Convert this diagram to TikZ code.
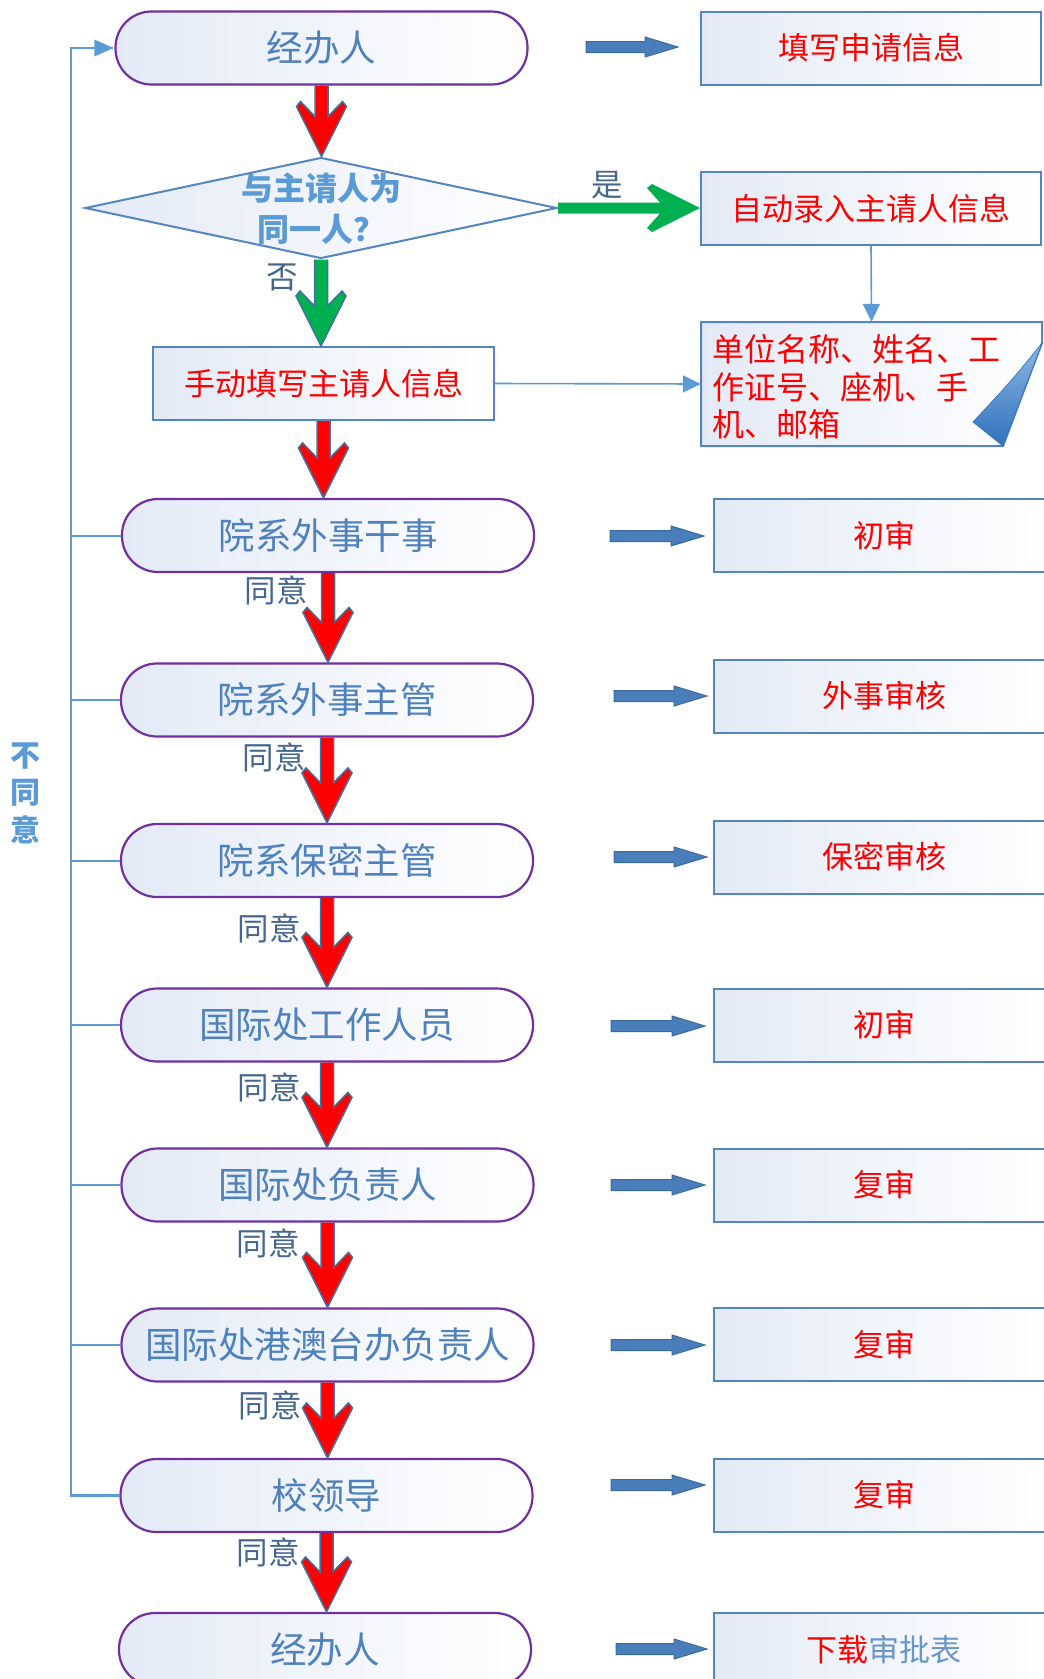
\documentclass[tikz,border=0pt]{standalone}
\usepackage{fontspec}
\setmainfont{Noto Sans CJK SC}
\usetikzlibrary{shapes.geometric,arrows.meta,calc}
\definecolor{pillborder}{HTML}{7030A0}
\definecolor{pilltext}{HTML}{4F81BD}
\definecolor{boxborder}{HTML}{5585C0}
\definecolor{lblue}{HTML}{5B9BD5}
\definecolor{gradc}{HTML}{E3EAF6}
\definecolor{arrline}{HTML}{41719C}
\definecolor{agreen}{HTML}{00B050}
\definecolor{lbltext}{HTML}{44668F}
\definecolor{barrow}{HTML}{4A7EBB}
\definecolor{barrowline}{HTML}{3A6A9E}
\definecolor{curllight}{HTML}{8DB6E4}
\definecolor{curldark}{HTML}{2F72BC}
\definecolor{sptext}{HTML}{6A95C8}

\newcommand\vArrow[3]{%
  \fill[#1] let \p1=(#2.south), \p2=(#3.north) in
    (\x1-6.5pt,\y1) -- (\x1-6.5pt,\y2+40pt) -- (\x1-21pt,\y2+55pt) -- (\x1-25pt,\y2+50pt) -- (\x1,\y2) -- (\x1+25pt,\y2+50pt) -- (\x1+21pt,\y2+55pt) -- (\x1+6.5pt,\y2+40pt) -- (\x1+6.5pt,\y1) -- cycle;
  \draw[arrline, line width=1.5pt, line join=miter] let \p1=(#2.south), \p2=(#3.north) in
    (\x1-6.5pt,\y1) -- (\x1-6.5pt,\y2+40pt) -- (\x1-21pt,\y2+55pt) -- (\x1-25pt,\y2+50pt) -- (\x1,\y2) -- (\x1+25pt,\y2+50pt) -- (\x1+21pt,\y2+55pt) -- (\x1+6.5pt,\y2+40pt) -- (\x1+6.5pt,\y1);
}
\newcommand\hArrow[3]{%
  \fill[#1] let \p1=(#2.east), \p2=(#3.west) in
    (\x1,\y1+5.5pt) -- (\x2-40pt,\y1+5.5pt) -- (\x2-53pt,\y1+20pt) -- (\x2-48pt,\y1+24pt) -- (\x2,\y1) -- (\x2-48pt,\y1-24pt) -- (\x2-53pt,\y1-20pt) -- (\x2-40pt,\y1-5.5pt) -- (\x1,\y1-5.5pt) -- cycle;
}
\newcommand\bArrow[3]{%
  \path[draw=barrowline, fill=barrow, line width=1pt, line join=miter]
    (#1,#3-5.5) -- (#2-33,#3-5.5) -- (#2-33,#3-10) -- (#2,#3) -- (#2-33,#3+10) -- (#2-33,#3+5.5) -- (#1,#3+5.5) -- cycle;
}

\tikzset{
  pill/.style={draw=pillborder, line width=2.2pt, rounded corners=36pt,
    minimum width=412pt, minimum height=73pt, inner sep=0pt,
    left color=gradc, right color=white, text=pilltext,
    font=\fontsize{36.5}{40}\selectfont},
  rbox/.style={draw=boxborder, line width=2pt, left color=gradc, right color=white,
    minimum width=340pt, minimum height=73pt, inner sep=0pt, text=red,
    font=\fontsize{31}{36}\selectfont},
  lbl/.style={inner sep=0pt, text=lbltext, font=\fontsize{31.5}{34}\selectfont},
  loopline/.style={draw=lblue, line width=2.5pt},
  thinarrow/.style={draw=lblue, line width=1.6pt, -{Triangle[length=18pt,width=17pt]}},
}

\begin{document}
\begin{tikzpicture}[x=1pt,y=-1pt]
\useasboundingbox (0,0) rectangle (1044,1679);

% main column
\node[pill] (top) at (321.5,48) {经办人};
\node[draw=boxborder, line width=2pt, shape=diamond, minimum width=472pt, minimum height=101pt,
      inner sep=0pt, left color=gradc, right color=white] (d) at (321,208) {};
\node[inner sep=0pt, align=center, text=lblue, font=\bfseries\fontsize{32}{41}\selectfont] (dt) at (321,208.5) {与主请人为\\同一人？};
\node[rbox, minimum width=341pt] (m) at (323.5,383.5) {手动填写主请人信息};
\node[pill] (p1) at (328,535.5) {院系外事干事};
\node[pill] (p2) at (327,700) {院系外事主管};
\node[pill] (p3) at (327,860.5) {院系保密主管};
\node[pill] (p4) at (327,1025) {国际处工作人员};
\node[pill] (p5) at (327.5,1185) {国际处负责人};
\node[pill] (p6) at (327.5,1345) {国际处港澳台办负责人};
\node[pill] (p7) at (326.5,1495.5) {校领导};
\node[pill] (p8) at (325,1649.5) {经办人};

% right column
\node[rbox] (b1) at (871,48) {填写申请信息};
\node[rbox] (b2) at (871,208.5) {自动录入主请人信息};
\path[draw=boxborder, line width=2pt, left color=gradc, right color=white]
  (701,322) -- (1042,322) -- (1042,343) -- (1003,446) -- (701,446) -- cycle;
\path[top color=curllight, bottom color=curldark, draw=curldark, line width=0.6pt]
  (1042,343) .. controls (1012,380) .. (973,422) -- (1003,446) -- cycle;
\node[minimum width=341pt, minimum height=124pt, inner sep=0pt] (b3) at (871.5,384) {};
\node[anchor=west, align=left, inner sep=0pt, text=red, font=\fontsize{32}{37.5}\selectfont] (b3t) at (712,387)
  {单位名称、姓名、工\\作证号、座机、手\\机、邮箱};

\node[rbox] (r1) at (884,535.5) {初审};
\node[rbox] (r2) at (884,696) {外事审核};
\node[rbox] (r3) at (884,857) {保密审核};
\node[rbox] (r4) at (884,1025) {初审};
\node[rbox] (r5) at (884,1185) {复审};
\node[rbox] (r6) at (884,1344.5) {复审};
\node[rbox] (r7) at (884,1495) {复审};
\node[rbox] (r8) at (884,1649.5) {{\color{red}下载}{\color{sptext}审批表}};

% loop line
\coordinate (lx) at (71,0);
\draw[loopline] (p7.west) -- (p7.west -| lx) |- ([xshift=-1pt]top.west);
\fill[lblue] ([xshift=-1pt]top.west) -- ++(-19,-8.5) -- ++(0,17) -- cycle;
\foreach \n in {p1,p2,p3,p4,p5,p6} \draw[loopline, line width=2pt] (\n.west) -- (\n.west -| lx);
\node[inner sep=0pt, align=center, text=lblue, font=\bfseries\fontsize{30}{37.5}\selectfont] (ny) at (25,793) {不\\同\\意};

% arrows main column
\vArrow{red}{top}{d}
\fill[agreen] let \p1=(d.south), \p2=(m.north) in
    (\x1-6.5pt,\y1) -- (\x1-6.5pt,\y2+40pt) -- (\x1-21pt,\y2+55pt) -- (\x1-25pt,\y2+50pt) -- (\x1,\y2) -- (\x1+25pt,\y2+50pt) -- (\x1+21pt,\y2+55pt) -- (\x1+6.5pt,\y2+40pt) -- (\x1+6.5pt,\y1) -- cycle;
\draw[arrline, line width=1.5pt] let \p1=(d.south), \p2=(m.north) in
    (\x1-6.5pt,\y1) -- (\x1-6.5pt,\y2+40pt) -- (\x1-21pt,\y2+55pt) -- (\x1-25pt,\y2+50pt) -- (\x1,\y2) -- (\x1+25pt,\y2+50pt) -- (\x1+21pt,\y2+55pt) -- (\x1+6.5pt,\y2+40pt) -- (\x1+6.5pt,\y1);
\hArrow{agreen}{d}{b2}
\vArrow{red}{m}{p1}
\vArrow{red}{p1}{p2}
\vArrow{red}{p2}{p3}
\vArrow{red}{p3}{p4}
\vArrow{red}{p4}{p5}
\vArrow{red}{p5}{p6}
\vArrow{red}{p6}{p7}
\vArrow{red}{p7}{p8}

\node[lbl] (yes) at (607,185) {是};
\node[lbl] (no) at (282,277) {否};
\node[lbl] (a1) at (276,590) {同意};
\node[lbl] (a2) at (274,757) {同意};
\node[lbl] (a3) at (269,928) {同意};
\node[lbl] (a4) at (269,1087) {同意};
\node[lbl] (a5) at (268,1243) {同意};
\node[lbl] (a6) at (270,1405) {同意};
\node[lbl] (a7) at (268,1552) {同意};

% thin arrows
\draw[thinarrow] (m.east) -- (b3.west);
\draw[thinarrow] (b2.south) -- (b3.north);

% block arrows
\bArrow{586}{678}{47}
\bArrow{610}{704}{536}
\bArrow{614}{707}{696}
\bArrow{614}{707}{857}
\bArrow{611}{705}{1026}
\bArrow{611}{705}{1185}
\bArrow{611}{705}{1345}
\bArrow{611}{705}{1485}
\bArrow{616}{707}{1649}
\end{tikzpicture}
\end{document}
